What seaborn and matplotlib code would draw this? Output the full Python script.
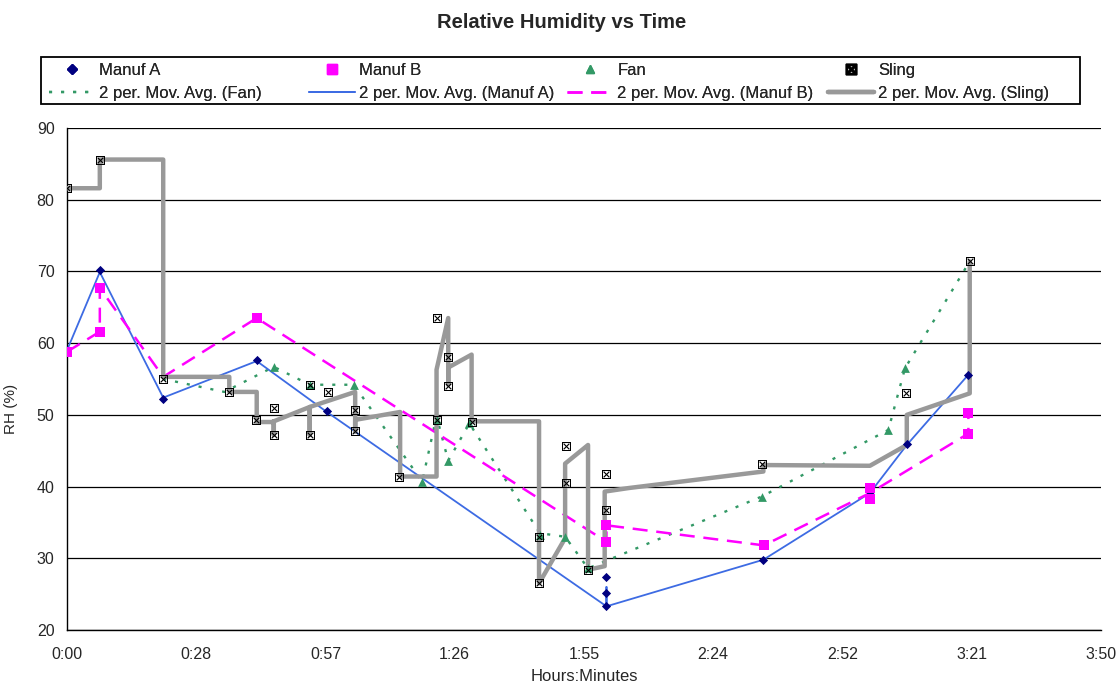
import numpy as np
import pandas as pd
import matplotlib
matplotlib.use("Agg")
import matplotlib.pyplot as plt
from matplotlib.lines import Line2D
from matplotlib.patches import Rectangle
import seaborn as sns

# time in minutes from start, RH in %
manuf_a_t = [0, 7.3, 21.4, 42.2, 57.8, 120, 120, 120, 154.9, 178.6, 186.8, 200.5]
manuf_a_rh = [59.0, 70.2, 52.2, 57.6, 50.5, 27.4, 25.2, 23.3, 29.8, 39.3, 46.0, 55.6]

manuf_b_t = [0, 7.3, 7.3, 42.2, 120, 120, 155, 178.6, 178.6, 200.5, 200.5]
manuf_b_rh = [58.8, 61.6, 67.7, 63.5, 34.6, 32.3, 31.8, 39.8, 38.2, 50.3, 47.4]

fan_t = [46.0, 54.0, 63.8, 79.0, 82.2, 84.8, 89.5, 105.2, 110.8, 115.9, 154.5, 182.7, 186.4]
fan_rh = [56.7, 54.2, 54.2, 40.7, 49.3, 43.6, 48.8, 33.2, 33.0, 28.6, 38.6, 47.9, 56.5]

sling_t = [0, 7.3, 21.4, 36.1, 42.0, 46.0, 46.0, 54.0, 54.0, 58.1, 64.1, 64.1, 73.9, 82.2,
           82.2, 84.8, 84.8, 90.0, 105.0, 105.0, 111.0, 111.0, 115.9, 120.0, 120.0, 154.7,
           186.6, 200.8]
sling_rh = [81.6, 85.6, 55.0, 53.2, 49.3, 50.9, 47.2, 54.2, 47.2, 53.2, 50.7, 47.7, 41.4, 63.5,
            49.3, 58.1, 54.0, 49.0, 33.0, 26.5, 45.7, 40.5, 28.4, 41.8, 36.7, 43.2,
            53.1, 71.4]

# 2 per. moving average traces, as the spreadsheet drew them
ma_a_t = [0, 7.3, 21.4, 42.2, 57.8, 120, 120, 120, 154.9, 178.6, 186.8, 200.5]
ma_a_rh = [59.0, 69.9, 52.4, 57.5, 50.4, 23.3, 26.0, 23.3, 29.8, 39.1, 45.8, 55.6]

ma_b_t = [0, 7.3, 7.3, 21.4, 42.2, 120, 120, 155, 178.6, 200.5, 200.5]
ma_b_rh = [58.8, 61.6, 67.7, 55.3, 63.5, 32.3, 34.6, 31.8, 39.1, 47.4, 50.3]

ma_fan_t = [21.4, 35.0, 46.0, 54.0, 63.8, 79.0, 82.2, 84.8, 89.5, 105.2, 110.8, 115.9,
            154.5, 182.7, 186.4, 200.8]
ma_fan_rh = [55.0, 53.2, 56.7, 54.2, 54.2, 40.7, 49.8, 43.6, 48.8, 33.5, 33.0, 28.6,
             38.6, 47.9, 56.5, 71.4]

ma_sling_t = [0, 7.3, 7.3, 21.4, 21.4, 36.1, 36.1, 42.2, 42.2, 45.5, 46.0, 46.0, 46.0, 54.0,
              54.0, 54.0, 64.1, 64.1, 64.1, 74.1, 74.1, 82.2, 82.2, 84.8, 84.8, 84.8, 90.0,
              90.0, 105.0, 105.0, 110.8, 110.8, 115.9, 115.9, 119.6, 119.6, 125.0, 154.9,
              154.9, 178.6, 186.8, 186.8, 200.8, 200.8]
ma_sling_rh = [81.6, 81.6, 85.6, 85.6, 55.3, 55.3, 53.2, 53.2, 49.0, 49.0, 49.1, 47.2, 49.1, 51.1,
               47.2, 51.1, 53.2, 47.7, 49.3, 50.4, 41.4, 41.4, 56.3, 63.5, 54.2, 56.6, 58.4,
               49.1, 49.1, 26.5, 32.8, 43.2, 45.8, 28.4, 28.9, 39.3, 39.8, 42.1,
               43.0, 42.9, 45.8, 50.0, 53.0, 71.4]

x_ticklabels = ["0:00", "0:28", "0:57", "1:26", "1:55", "2:24", "2:52", "3:21", "3:50"]

sns.set_style("white")
plt.rcParams['font.family'] = ['Liberation Sans', 'DejaVu Sans']

c_a, c_a_ma = "#000080", "#3d6be3"
c_b = "#ff00ff"
c_fan = "#339966"
c_sling = "#999999"
box_x = r"$\boxtimes$"

fig = plt.figure(figsize=(11.18, 6.86), dpi=100)
ax = fig.add_axes([67 / 1118, 56 / 686, 1034 / 1118, 502 / 686])

# moving average lines
sns.lineplot(x=ma_fan_t, y=ma_fan_rh, sort=False, estimator=None, errorbar=None, ax=ax,
             color=c_fan, lw=1.7, linestyle=(0, (1.3, 3.8)), zorder=3)
sns.lineplot(x=ma_a_t, y=ma_a_rh, sort=False, estimator=None, errorbar=None, ax=ax,
             color=c_a_ma, lw=1.3, zorder=3)
sns.lineplot(x=ma_b_t, y=ma_b_rh, sort=False, estimator=None, errorbar=None, ax=ax,
             color=c_b, lw=1.8, linestyle=(0, (6, 3.5)), zorder=3)
sns.lineplot(x=ma_sling_t, y=ma_sling_rh, sort=False, estimator=None, errorbar=None, ax=ax,
             color=c_sling, lw=3.2, zorder=4)

# data markers
sns.scatterplot(x=manuf_a_t, y=manuf_a_rh, marker="D", color=c_a, s=22, linewidth=0,
                ax=ax, zorder=5)
sns.scatterplot(x=manuf_b_t, y=manuf_b_rh, marker="s", color=c_b, s=55, linewidth=0,
                ax=ax, zorder=5)
sns.scatterplot(x=fan_t, y=fan_rh, marker="^", color=c_fan, s=40, linewidth=0,
                ax=ax, zorder=5)
sns.scatterplot(x=sling_t, y=sling_rh, marker=box_x, color="black", s=42,
                linewidth=0, ax=ax, zorder=6)

ax.set_xlim(0, 230)
ax.set_ylim(20, 90)
ax.set_xticks(np.linspace(0, 230, len(x_ticklabels)))
ax.set_xticklabels(x_ticklabels)
ax.set_yticks(np.arange(20, 91, 10))
ax.yaxis.grid(True, color="black", lw=0.9)
ax.set_axisbelow(True)
for s in ["top", "right"]:
    ax.spines[s].set_visible(False)
for s in ["left", "bottom"]:
    ax.spines[s].set_color("black")
    ax.spines[s].set_linewidth(1.0)
ax.tick_params(axis="both", direction="out", length=5, width=1, color="black",
               labelsize=11.5)
ax.tick_params(axis="y", pad=4)
ax.tick_params(axis="x", pad=7)
ax.set_xlabel("Hours:Minutes", fontsize=12)
ax.xaxis.set_label_coords(0.5, -0.077)
ax.set_ylabel("RH (%)", fontsize=11)
ax.yaxis.set_label_coords(-0.047, 0.44)

fig.text(0.502, 1 - 22 / 686, "Relative Humidity vs Time", ha="center", va="center",
         fontsize=14.5, fontweight="bold")

# legend: four columns of two rows each, in one frame
leg_cols = [
    ([Line2D([], [], ls="none", marker="D", color=c_a, ms=5),
      Line2D([], [], color=c_fan, lw=1.7, ls=(0, (1.3, 3.8)))],
     ["Manuf A", "2 per. Mov. Avg. (Fan)"], 46),
    ([Line2D([], [], ls="none", marker="s", color=c_b, ms=7),
      Line2D([], [], color=c_a_ma, lw=1.3)],
     ["Manuf B", "2 per. Mov. Avg. (Manuf A)"], 306),
    ([Line2D([], [], ls="none", marker="^", color=c_fan, ms=6),
      Line2D([], [], color=c_b, lw=1.8, ls=(0, (6, 3.5)))],
     ["Fan", "2 per. Mov. Avg. (Manuf B)"], 564),
    ([Line2D([], [], ls="none", marker=box_x, color="black", ms=7.5),
      Line2D([], [], color=c_sling, lw=3.2)],
     ["Sling", "2 per. Mov. Avg. (Sling)"], 825),
]
for hs, ls, x0 in leg_cols:
    lg = fig.legend(hs, ls, loc="upper left", bbox_to_anchor=(x0 / 1118, 1 - 60 / 686),
                    frameon=False, fontsize=12, handlelength=2.75, handletextpad=0.24,
                    labelspacing=0.45, borderpad=0.2, borderaxespad=0)
    fig.add_artist(lg)

fig.patches.append(Rectangle((41 / 1118, 1 - 104 / 686), 1039 / 1118, 47 / 686,
                             transform=fig.transFigure, fill=False, edgecolor="black",
                             lw=1.3))

fig.savefig("out.png", dpi=100)
